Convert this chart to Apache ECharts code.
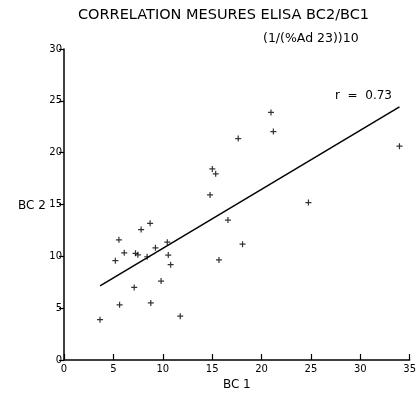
<!DOCTYPE html>
<html>
<head>
<meta charset="utf-8">
<script src="https://cdn.jsdelivr.net/npm/echarts@6/dist/echarts.min.js"></script>
<style>
  html, body { margin: 0; padding: 0; background: #fff; }
  #chart { width: 419px; height: 396px; }
</style>
</head>
<body>
<div id="chart"></div>
<script>
// BC1 / BC2 measures
const bc1 = [3.65, 5.2, 5.56, 5.63, 6.1, 7.11, 7.24, 7.48, 7.81, 8.42, 8.72, 8.79, 9.26, 9.83, 10.46,
  10.56, 10.8, 11.77, 14.79, 15.02, 15.36, 15.69, 16.6, 17.64, 18.08, 20.96, 21.2, 24.75, 33.97]
const bc2 = [3.89, 9.58, 11.59, 5.32, 10.34, 7.0, 10.29, 10.15, 12.58, 9.96, 13.18, 5.51, 10.82, 7.61, 11.37,
  10.12, 9.2, 4.23, 15.92, 18.43, 17.96, 9.65, 13.5, 21.36, 11.17, 23.88, 22.03, 15.19, 20.63]

// regression line end points
const fitX = [3.65, 33.97]
const fitY = [7.15, 24.42]

const xTicks = [0, 5, 10, 15, 20, 25, 30, 35]
const yTicks = [0, 5, 10, 15, 20, 25, 30]

const font = 'DejaVu Sans'
const plus = 'path://M4,0h2v4h4v2h-4v4h-2v-4h-4v-2h4z'

const chart = echarts.init(document.getElementById('chart'))
chart.setOption({
  animation: false,
  backgroundColor: '#fff',
  textStyle: { fontFamily: font, color: '#000' },
  title: [
    {
      text: 'CORRELATION MESURES ELISA BC2/BC1',
      left: 73, top: 3,
      textStyle: { fontFamily: font, fontSize: 14.5, fontWeight: 'normal', color: '#000' }
    },
    {
      text: '(1/(%Ad 23))10',
      left: 258, top: 27,
      textStyle: { fontFamily: font, fontSize: 12.5, fontWeight: 'normal', color: '#000' }
    }
  ],
  graphic: [
    { type: 'text', left: 18, top: 200, style: { text: 'BC 2', font: '12px ' + font, fill: '#000' } },
    { type: 'text', left: 335, top: 90, style: { text: 'r  =  0.73', font: '12px ' + font, fill: '#000' } }
  ],
  grid: { left: 64, right: 8, top: 49, bottom: 33 },
  xAxis: {
    type: 'value',
    min: xTicks[0], max: xTicks[xTicks.length - 1], interval: 5,
    name: 'BC 1', nameLocation: 'middle', nameGap: 19,
    nameTextStyle: { fontSize: 12, color: '#000', fontFamily: font },
    axisLine: { lineStyle: { color: '#000', width: 1.5 } },
    axisTick: { inside: true, length: 6, lineStyle: { color: '#000', width: 1.2 } },
    axisLabel: { fontSize: 10, color: '#000', margin: 4, fontFamily: font },
    splitLine: { show: false }
  },
  yAxis: {
    type: 'value',
    min: yTicks[0], max: yTicks[yTicks.length - 1], interval: 5,
    axisLine: { lineStyle: { color: '#000', width: 1.5 } },
    axisTick: { length: 5, lineStyle: { color: '#000', width: 1.2 } },
    axisLabel: { fontSize: 10, color: '#000', margin: 2, fontFamily: font },
    splitLine: { show: false }
  },
  series: [
    {
      type: 'scatter',
      data: bc1.map((x, i) => [x, bc2[i]]),
      symbol: plus,
      symbolSize: 6,
      itemStyle: { color: '#000' }
    },
    {
      type: 'line',
      data: fitX.map((x, i) => [x, fitY[i]]),
      showSymbol: false,
      lineStyle: { color: '#000', width: 1.5 }
    }
  ]
})
</script>
</body>
</html>
